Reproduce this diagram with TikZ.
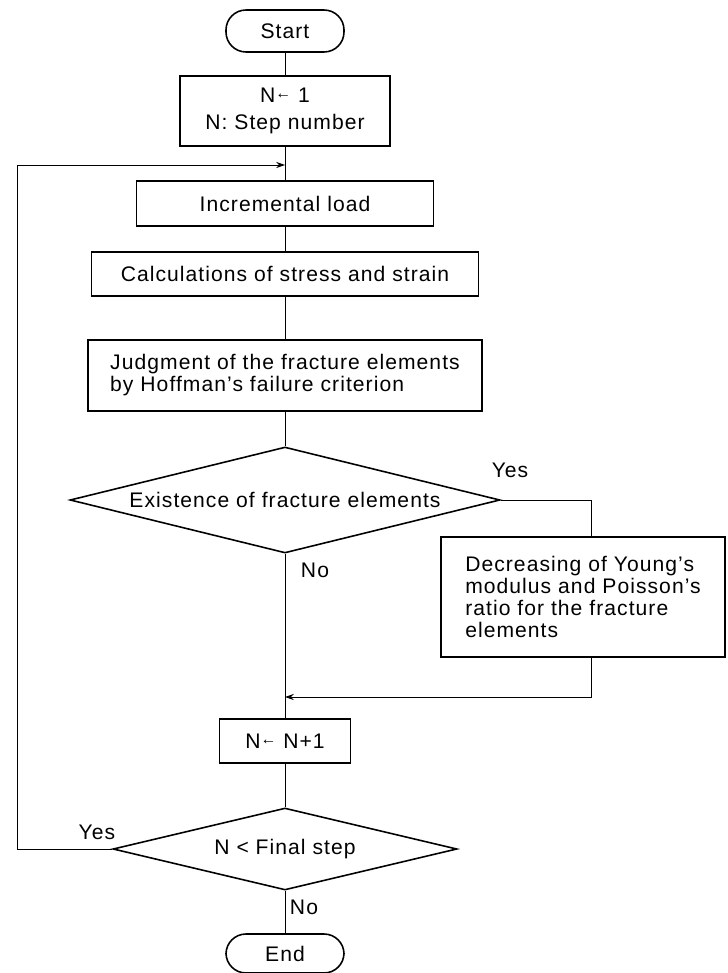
\documentclass[tikz,border=0pt]{standalone}
\usepackage{fontspec}
\setmainfont{Liberation Sans}[LetterSpace=5]
\usepackage{tikz}
\usetikzlibrary{arrows.meta, shapes.geometric}

% small raised arrow used in the assignments
\newcommand{\assign}{\raisebox{0.35ex}{\small←}}

\begin{document}
\begin{tikzpicture}[
    font=\fontsize{12}{12.5}\selectfont,
    box/.style={draw, line width=0.9pt, inner sep=0pt, align=center},
    term/.style={box, rounded corners=0.4cm, minimum width=2.36cm},
    decision/.style={draw, line width=0.9pt, diamond, aspect=4, inner sep=0pt},
    line/.style={line width=0.5pt},
    arr/.style={line, -{Stealth[length=5pt, width=3.5pt]}},
    lbl/.style={inner sep=1pt}]

  \useasboundingbox (0,0) rectangle (14.54,-19.46);

  % ----- terminals and process boxes -----
  \node[term, minimum height=0.84cm] at (5.7,-0.62) (start) {Start};
  \node[box, minimum width=4.2cm, minimum height=1.4cm] at (5.7,-2.22) (init)
    {N\assign\ 1\\[3pt] N: Step number};
  \node[box, minimum width=5.94cm, minimum height=0.9cm] at (5.7,-4.07) (incr)
    {Incremental load};
  \node[box, minimum width=7.74cm, minimum height=0.88cm] at (5.7,-5.48) (calc)
    {Calculations of stress and strain};
  \node[box, align=left, minimum width=7.88cm, minimum height=1.42cm] at (5.7,-7.51) (judge)
    {Judgment of the fracture elements\\by Hoffman's failure criterion};

  % ----- fracture check -----
  \node[decision, minimum width=8.6cm, minimum height=2.12cm] at (5.7,-10.0) (exist)
    {Existence of fracture elements};
  \node[box, align=left, minimum width=5.68cm, minimum height=2.4cm] at (11.66,-11.94) (soften)
    {Decreasing of Young's\\modulus and Poisson's\\ratio for the fracture\\elements};

  \node[box, minimum width=2.62cm, minimum height=0.88cm] at (5.7,-14.82) (step)
    {N\assign\ N+1};

  % ----- loop check -----
  \node[decision, minimum width=6.88cm, minimum height=1.64cm] at (5.7,-16.98) (cond)
    {N < Final step};
  \node[term, minimum height=0.78cm] at (5.7,-19.07) (stop) {End};

  % ----- labels -----
  \node[lbl] at (10.2,-9.4) (yesA) {Yes};
  \node[lbl] at (6.3,-11.4) (noA) {No};
  \node[lbl] at (1.94,-16.64) (yesB) {Yes};
  \node[lbl] at (6.08,-18.14) (noB) {No};

  % ----- connector points -----
  \coordinate (join) at (5.7,-3.3);
  \coordinate (loop) at (0.34,-3.3);
  \coordinate (softtop) at (11.82,-10.74);
  \coordinate (softbot) at (11.82,-13.14);
  \coordinate (merge) at (5.7,-13.94);

  % ----- main flow -----
  \draw[line] (start) -- (init);
  \draw[line] (init) -- (incr);
  \draw[line] (incr) -- (calc);
  \draw[line] (calc) -- (judge);
  \draw[line] (judge) -- (exist);
  \draw[line] (exist.south) -- (step);
  \draw[line] (step) -- (cond);
  \draw[line] (cond.south) -- (stop);

  % ----- side branches -----
  \draw[line] (exist.east) -| (softtop);
  \draw[arr] (softbot) |- (merge);
  \draw[arr] (cond.west) -| (loop) -- (join);

\end{tikzpicture}
\end{document}
